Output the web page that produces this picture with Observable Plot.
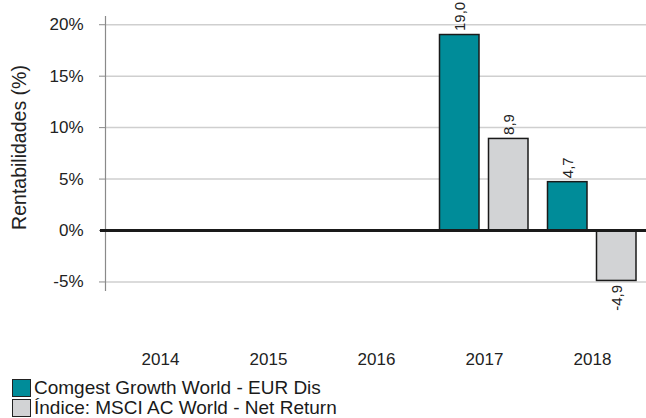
<!DOCTYPE html>
<html>
<head>
<meta charset="utf-8">
<script src="https://cdn.jsdelivr.net/npm/d3@7"></script>
<script src="https://cdn.jsdelivr.net/npm/@observablehq/plot@0.6"></script>
<style>
  body { margin: 0; background: #fff; font-family: "Liberation Sans", Arial, sans-serif; }
  #chart { width: 646px; }
  .legend { margin-left: 12px; margin-top: 3px; font-size: 19px; color: #1a1a1a; }
  .legend .row { display: flex; align-items: center; height: 20px; white-space: nowrap; }
  .legend .sw { width: 17px; height: 16px; border: 1px solid #222; margin-right: 3px; flex: none; }
</style>
</head>
<body>
<div id="chart"></div>
<script>
const years = ["2014", "2015", "2016", "2017", "2018"];
const fundName = "Comgest Growth World - EUR Dis";
const indexName = "Índice: MSCI AC World - Net Return";
const fundValues = [null, null, null, 19.0, 4.7];
const indexValues = [null, null, null, 8.9, -4.9];
const yTicks = [-5, 0, 5, 10, 15, 20];
const yTitle = "Rentabilidades (%)";
const colors = {fund: "#008C99", index: "#D2D3D5"};

const fundRows = years.map((year, i) => ({year, value: fundValues[i]})).filter(d => d.value != null);
const indexRows = years.map((year, i) => ({year, value: indexValues[i]})).filter(d => d.value != null);
const fmt = v => v.toFixed(1).replace(".", ",");
const font = "'Liberation Sans', Arial, sans-serif";

function valueLabels(rows, dx) {
  return [
    Plot.text(rows, {filter: d => d.value >= 0, x: "year", y: "value", text: d => fmt(d.value), dx, dy: -4,
      rotate: -90, textAnchor: "start", fontSize: 15, fill: "#222"}),
    Plot.text(rows, {filter: d => d.value < 0, x: "year", y: "value", text: d => fmt(d.value), dx, dy: 4,
      rotate: -90, textAnchor: "end", fontSize: 15, fill: "#222"})
  ];
}

const plot = Plot.plot({
  width: 646,
  height: 375,
  marginLeft: 105,
  marginRight: 0,
  marginTop: 16,
  marginBottom: 85,
  style: {fontFamily: font, color: "#222", background: "#fff"},
  x: {domain: years, paddingInner: 0, paddingOuter: 0, label: null},
  y: {domain: [-5.83, 20.8], label: null},
  marks: [
    Plot.ruleY(yTicks, {stroke: "#cfcfcf", strokeWidth: 1.5}),
    Plot.frame({anchor: "left", stroke: "#8a8a8a", strokeWidth: 1.2}),
    Plot.axisY({ticks: yTicks, tickSize: 6, tickPadding: 16, tickFormat: d => d + "%", fontSize: 17,
      stroke: "#8a8a8a", label: null}),
    Plot.text([yTitle], {text: d => d, frameAnchor: "left", textAnchor: "middle", rotate: -90, dx: -86, dy: -6,
      fontSize: 19.5, fill: "#222"}),
    Plot.axisX({tickSize: 0, tickPadding: 62, fontSize: 17}),
    Plot.barY(fundRows, {x: "year", y: "value", fill: colors.fund, stroke: "#1a1a1a", strokeWidth: 1.5, insetLeft: 9.5, insetRight: 59}),
    Plot.barY(indexRows, {x: "year", y: "value", fill: colors.index, stroke: "#1a1a1a", strokeWidth: 1.5, insetLeft: 58.5, insetRight: 10}),
    Plot.ruleY([0], {stroke: "#1a1a1a", strokeWidth: 3, insetLeft: -5}),
    ...valueLabels(fundRows, -24.6),
    ...valueLabels(indexRows, 24.5)
  ]
});
document.getElementById("chart").appendChild(plot);

const legend = document.createElement("div");
legend.className = "legend";
[[fundName, colors.fund], [indexName, colors.index]].forEach(([name, color]) => {
  const row = document.createElement("div");
  row.className = "row";
  const sw = document.createElement("span");
  sw.className = "sw";
  sw.style.background = color;
  const label = document.createElement("span");
  label.textContent = name;
  row.append(sw, label);
  legend.appendChild(row);
});
document.getElementById("chart").appendChild(legend);
</script>
</body>
</html>
